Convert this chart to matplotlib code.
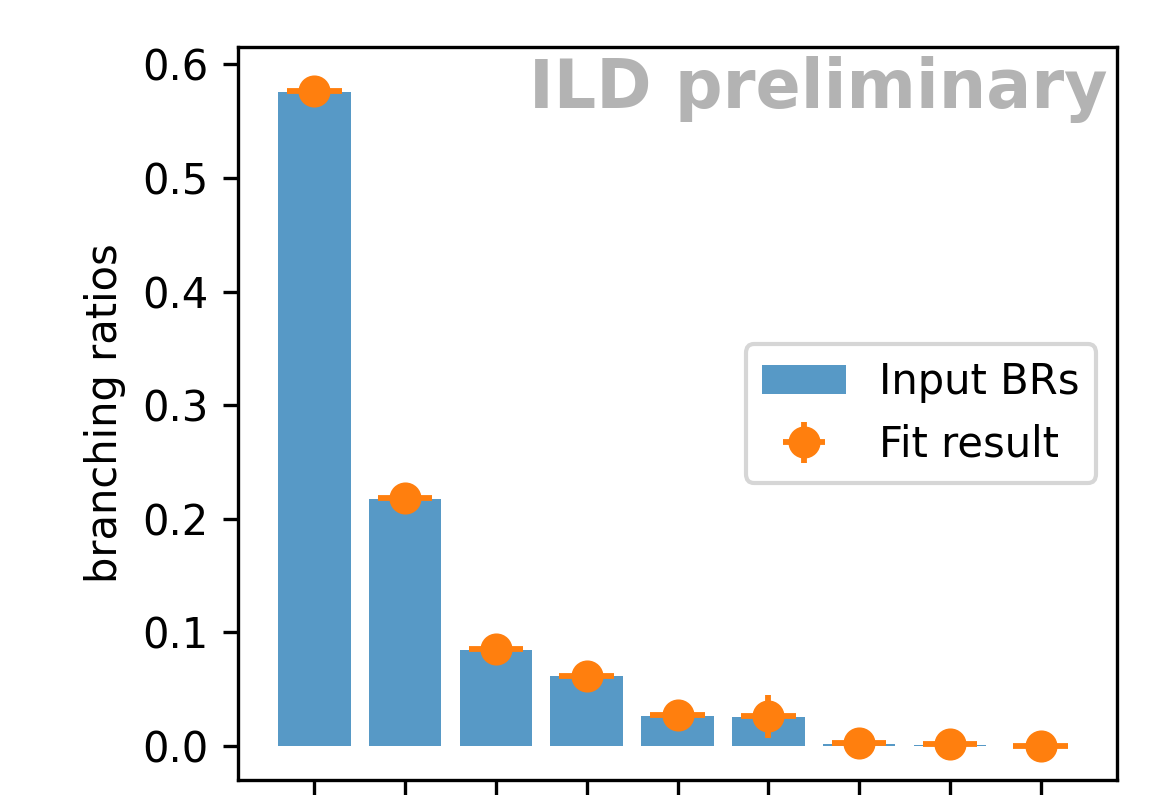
import matplotlib
matplotlib.use("Agg")
import matplotlib.pyplot as plt
import numpy as np

# Data
channels = ["bb", "WW", "gg", "tautau", "cc", "ZZ", "gamgam", "Zgam", "mumu"]
input_brs = [0.576, 0.217, 0.0847, 0.0618, 0.0265, 0.0256, 0.0020, 0.0012, 0.0003]
fit_vals = [0.577, 0.218, 0.0856, 0.0620, 0.0277, 0.0262, 0.0025, 0.0016, 0.0004]
fit_errs = [0.009, 0.005, 0.004, 0.003, 0.004, 0.019, 0.002, 0.002, 0.001]

DPI = 300
fig = plt.figure(figsize=(1170 / DPI, 795 / DPI), dpi=DPI)
ax = fig.add_axes([238 / 1170, 1 - 780 / 795, 879 / 1170, 733 / 795])

x = np.arange(len(channels))
ax.bar(x, input_brs, width=0.8, color="tab:blue", alpha=0.75, label="Input BRs")
ax.errorbar(x, fit_vals, yerr=fit_errs, xerr=0.3, fmt="o", color="tab:orange",
            markersize=6.7, elinewidth=1.4, label="Fit result")

ax.set_xticks(x)
ax.tick_params(axis="x", labelbottom=False)
ax.set_ylabel("branching ratios")
ax.legend(loc="center right")
ax.text(0.989, 0.988, "ILD preliminary", transform=ax.transAxes, ha="right", va="top",
        fontsize=16, fontweight="bold", color="0.7")

fig.savefig("out.png", dpi=DPI)
